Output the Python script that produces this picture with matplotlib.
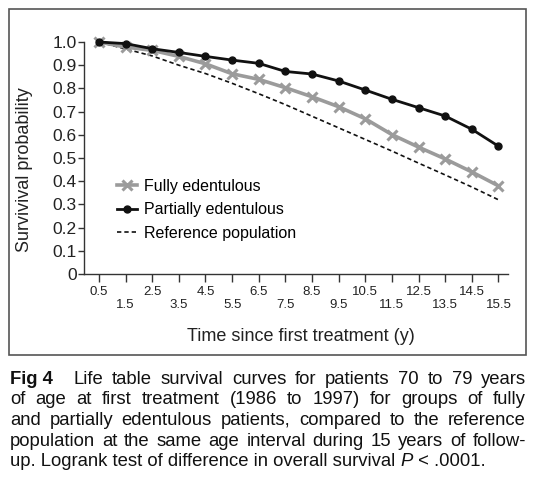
import numpy as np
import matplotlib
matplotlib.use("Agg")
from matplotlib import pyplot as plt
from matplotlib.patches import Rectangle

plt.rcParams['font.family'] = ['Liberation Sans', 'DejaVu Sans']

years = [0.5, 1.5, 2.5, 3.5, 4.5, 5.5, 6.5, 7.5, 8.5, 9.5, 10.5, 11.5, 12.5, 13.5, 14.5, 15.5]
fully = [1.0, 0.978, 0.964, 0.938, 0.906, 0.863, 0.839, 0.803, 0.764, 0.721,
         0.669, 0.601, 0.547, 0.496, 0.440, 0.380]
partially = [1.0, 0.993, 0.971, 0.955, 0.938, 0.922, 0.908, 0.873, 0.862, 0.832,
             0.793, 0.753, 0.717, 0.681, 0.624, 0.551]
reference = [1.0, 0.97, 0.94, 0.90, 0.864, 0.822, 0.777, 0.73, 0.68, 0.63,
             0.58, 0.53, 0.478, 0.427, 0.375, 0.32]
y_ticks = [0, 0.1, 0.2, 0.3, 0.4, 0.5, 0.6, 0.7, 0.8, 0.9, 1.0]
y_labels = ["0", "0.1", "0.2", "0.3", "0.4", "0.5", "0.6", "0.7", "0.8", "0.9", "1.0"]
series_names = ["Fully edentulous", "Partially edentulous", "Reference population"]

caption = [
    "Life table survival curves for patients 70 to 79 years",
    "of age at first treatment (1986 to 1997) for groups of fully",
    "and partially edentulous patients, compared to the reference",
    "population at the same age interval during 15 years of follow-",
]
last_line = ["up. Logrank test of difference in overall survival ", "P", " < .0001."]

W, H = 534, 483


def px(x, y):
    # pixel position (from top left) to figure fraction
    return x / W, 1 - y / H


fig = plt.figure(figsize=(W / 100, H / 100), dpi=100)
fig.patches.append(Rectangle(px(9, 355), (526 - 9) / W, (355 - 9) / H, transform=fig.transFigure,
                             fill=False, edgecolor='#555555', linewidth=1.2))

ax = fig.add_axes([84.3 / W, 1 - 274 / H, (508 - 84.3) / W, (274 - 42) / H])
ax.plot(years, reference, color='#111111', lw=1.2, dashes=(2.6, 1.8), label=series_names[2], zorder=2)
ax.plot(years, fully, color='#9b9b9b', lw=2.6, marker='x', ms=7.5, mew=2.2, label=series_names[0],
        clip_on=False, zorder=3)
ax.plot(years, partially, color='#111111', lw=2.0, marker='o', ms=5, label=series_names[1],
        clip_on=False, zorder=4)

ax.set_xlim(-0.05, 15.86)
ax.set_ylim(0, 1.0)
ax.set_yticks(y_ticks)
ax.set_yticklabels(y_labels, fontsize=12.5)
ax.set_xticks(years)
ax.set_xticklabels([("" if i % 2 == 0 else "\n") + str(v) for i, v in enumerate(years)],
                   fontsize=9.5, linespacing=1.1)
ax.tick_params(axis='y', length=4.5, width=1, pad=0.8, colors='#333333', labelcolor='#222222')
ax.tick_params(axis='x', length=6, width=1, pad=2.5, colors='#333333', labelcolor='#222222')
for s in ['top', 'right']:
    ax.spines[s].set_visible(False)
for s in ['left', 'bottom']:
    ax.spines[s].set_color('#333333')
    ax.spines[s].set_linewidth(1.0)

h, l = ax.get_legend_handles_labels()
order = [1, 2, 0]
ax.legend([h[i] for i in order], [l[i] for i in order], loc='upper left',
          bbox_to_anchor=px(117, 179), bbox_transform=fig.transFigure, frameon=False,
          fontsize=11.5, handlelength=1.28, handletextpad=0.4, labelspacing=0.52,
          borderpad=0, borderaxespad=0, numpoints=1)

fig.text(*px(24.5, 169.6), "Survivival probability", rotation=90, ha='center', va='center',
         fontsize=13, color='#222222')
fig.text(*px(301, 341), "Time since first treatment (y)", ha='center', va='baseline',
         fontsize=13, color='#222222')

# justified caption
renderer = fig.canvas.get_renderer()
cap_size = 13.3
left, right = 10, 526
base_y = [384, 404.5, 425, 445.5, 466]


def word_width(t):
    return t.get_window_extent(renderer).width


for li, line in enumerate(caption):
    tokens = []
    if li == 0:
        tokens.append(fig.text(*px(left, base_y[li]), "Fig 4", fontsize=cap_size, fontweight='bold',
                               va='baseline', color='#111111'))
    for w in line.split():
        tokens.append(fig.text(*px(left, base_y[li]), w, fontsize=cap_size, va='baseline', color='#111111'))
    widths = [word_width(t) for t in tokens]
    extra = 12 if li == 0 else 0
    gap = (right - left - sum(widths) - extra) / (len(tokens) - 1)
    x = left
    for i, t in enumerate(tokens):
        t.set_position(px(x, base_y[li]))
        x += widths[i] + gap + (extra if (li == 0 and i == 0) else 0)

x = left
for i, piece in enumerate(last_line):
    t = fig.text(*px(x, base_y[4]), piece, fontsize=cap_size, va='baseline', color='#111111',
                 style='italic' if piece == "P" else 'normal')
    x += word_width(t)

fig.savefig("out.png", dpi=100)
